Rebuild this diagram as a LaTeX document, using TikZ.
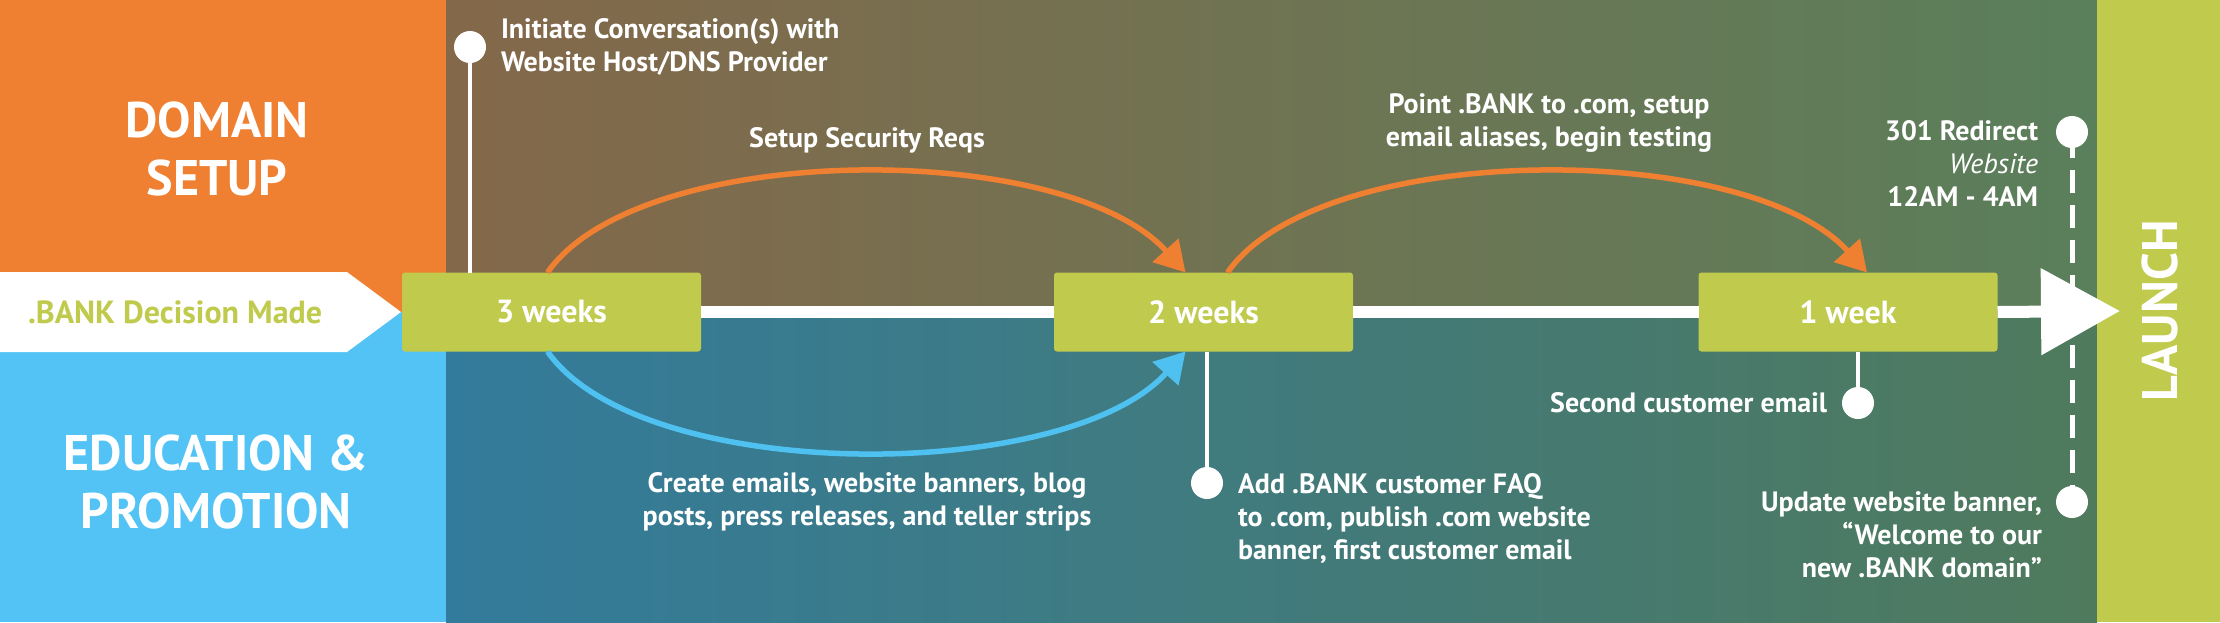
\documentclass[tikz,border=0pt]{standalone}
\usepackage{fontspec}
\setmainfont{PT Sans}
\usetikzlibrary{arrows.meta,calc}
\definecolor{orangeP}{HTML}{EF8032}
\definecolor{blueP}{HTML}{53C3F6}
\definecolor{brownL}{HTML}{84684A}
\definecolor{greenR}{HTML}{5A7F5B}
\definecolor{tealL}{HTML}{337B9C}
\definecolor{greenRB}{HTML}{4F7A5C}
\definecolor{lime}{HTML}{C0CB4E}
\definecolor{arcBlue}{HTML}{4FC1F1}
\begin{document}
\begin{tikzpicture}[x=1pt,y=-1pt,
  every node/.style={inner sep=0pt, outer sep=0pt},
  heading/.style={font=\fontsize{50}{58}\selectfont\bfseries, text=white, align=center},
  body/.style={font=\fontsize{28}{33}\selectfont\bfseries, text=white},
  weekbox/.style={fill=lime, rounded corners=3pt, minimum width=299pt, minimum height=79pt,
    font=\fontsize{32}{40}\selectfont\bfseries, text=white},
  dot/.style={circle, fill=white, minimum size=32pt},
  conn/.style={white, line width=4.5pt},
  timeline/.style={white, line width=12pt},
  orangearc/.style={draw=orangeP, line width=5.5pt, -{Triangle[length=30pt,width=34pt]}},
  bluearc/.style={draw=arcBlue, line width=5.5pt, -{Triangle[length=30pt,width=34pt]}}
]
\useasboundingbox (0,0) rectangle (2220,622);
% panels
\fill[orangeP] (0,0) rectangle (446,312);
\fill[blueP] (0,312) rectangle (446,622);
\shade[left color=brownL, right color=greenR] (446,0) rectangle (2097,311);
\shade[left color=tealL, right color=greenRB] (446,311) rectangle (2097,622);
\fill[lime] (2097,0) rectangle (2220,622);
% start pentagon
\fill[white] (0,272) -- (347,272) -- (401,312) -- (347,352) -- (0,352) -- cycle;
\node[anchor=west, font=\fontsize{32}{40}\selectfont\bfseries, text=lime] (decision) at (28,312) {.BANK Decision Made};
% headings
\node[heading] (dom) at (217,149) {DOMAIN\\SETUP};
\node[heading] (edu) at (216,481.5) {EDUCATION \&\\PROMOTION};
\node[heading, rotate=90] (launch) at (2160,311) {LAUNCH};
% week boxes
\node[weekbox] (w3) at (551.5,312) {3 weeks};
\node[weekbox] (w2) at (1203.5,312) {2 weeks};
\node[weekbox] (w1) at (1848,312) {1 week};
\coordinate (tip) at (2120,311);
% timeline
\draw[timeline] (w3.east) -- (w2.west) (w2.east) -- (w1.west);
\draw[timeline, -{Triangle[length=79pt,width=84pt]}] (w1.east) -- (tip);
% milestone dots
\node[dot] (c1) at (470,47) {};
\node[dot] (c2) at (1207,483) {};
\node[dot] (c3) at (1858,403) {};
\node[dot] (c4) at (2072,132) {};
\node[dot] (c5) at (2072,502) {};
\draw[conn] (c1.center) -- (c1.center |- w3.north);
\draw[conn] (c2.center |- w2.south) -- (c2.center);
\draw[conn] (c3.center |- w1.south) -- (c3.center);
\draw[conn, line width=5pt, dash pattern=on 23pt off 12pt, dash phase=32pt] (c4.center) -- (c5.center);
% arcs
\draw[orangearc] ([xshift=-4pt]w3.north) .. controls +(93,-133) and +(-120,-133) .. ([xshift=-18pt]w2.north);
\draw[orangearc] ([xshift=24pt]w2.north) .. controls +(93,-133) and +(-120,-133) .. ([xshift=19pt]w1.north);
\draw[bluearc] ([xshift=-4pt]w3.south) .. controls +(93,133) and +(-120,133) .. ([xshift=-18pt]w2.south);
% labels
\node[body, anchor=west, align=left] (t1) at (501,46.5) {Initiate Conversation(s) with\\Website Host/DNS Provider};
\node[body] (t2) at (867,140) {Setup Security Reqs};
\node[body, align=center] (t3) at (1549,123.5) {Point .BANK to .com, setup\\email aliases, begin testing};
\node[body, anchor=east, align=right] (t4) at (2038,163.5) {301 Redirect\\{\mdseries\itshape Website}\\12AM - 4AM};
\node[body, align=center] (t5) at (867,501.5) {Create emails, website banners, blog\\posts, press releases, and teller strips};
\node[body, anchor=west, align=left] (t6) at (1238,518.5) {Add .BANK customer FAQ\\to .com, publish .com website\\banner, first customer email};
\node[body, anchor=east] (t7) at (1827,403) {Second customer email};
\node[body, anchor=east, align=right] (t8) at (2042,535) {Update website banner,\\“Welcome to our\\new .BANK domain”};
\end{tikzpicture}
\end{document}
